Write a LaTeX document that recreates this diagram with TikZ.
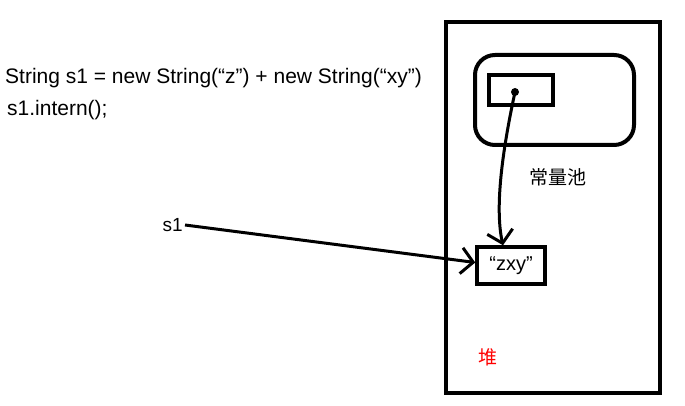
\documentclass[tikz,border=0pt]{standalone}
\usepackage{fontspec}
\setmainfont{Liberation Sans}
\newfontfamily\cjkfont{Noto Sans CJK SC}
\usepackage{tikz}
\usetikzlibrary{positioning,arrows.meta}
\tikzset{
  heapbox/.style={rectangle, draw, line width=4pt, minimum width=214pt, minimum height=371pt, inner sep=0pt},
  poolbox/.style={rectangle, draw, line width=4pt, rounded corners=20pt, minimum width=159pt, minimum height=90pt, inner sep=0pt},
  slotbox/.style={rectangle, draw, line width=3.5pt, minimum width=64pt, minimum height=30pt, inner sep=0pt},
  strbox/.style={rectangle, draw, line width=3.5pt, minimum width=68pt, minimum height=37pt, inner sep=0pt, font=\fontsize{20}{24}\selectfont},
  code/.style={font=\fontsize{21}{25}\selectfont, inner sep=0pt, anchor=west},
  ptr/.style={-{Straight Barb[length=12pt,width=26pt,line width=3pt]}, line width=3pt},
  cjklabel/.style={font=\cjkfont\fontsize{19}{22}\selectfont, inner sep=0pt},
}
\begin{document}
\begin{tikzpicture}[x=1pt, y=1pt]
\useasboundingbox (0,0) rectangle (685,405);
%Nodes
\node[code] (line1) at (5,327) {String s1 = new String(“z”) + new String(“xy”)};
\node[code] (line2) at (7,295) {s1.intern();};
\node[heapbox] (heap) at (553,197.5) {};
\node[poolbox] (pool) at (554.5,305) {};
\node[slotbox] (slot) at (521,315) {};
\node[circle, fill, minimum size=8pt, inner sep=0pt] (dot) at (515,313) {};
\node[cjklabel] (poollabel) at (558,228) {常量池};
\node[strbox] (zxy) at (511,139.5) {“zxy”};
\node[cjklabel, text=red] (heaplabel) at (488,48) {堆};
\node[code, anchor=east, inner sep=2pt, font=\fontsize{19}{22}\selectfont] (s1) at (185,180) {s1};

%Lines
\draw[ptr] (s1.east) -- ([yshift=3pt]zxy.west);
\draw[ptr] (dot.center) .. controls (504,262) and (494,200) .. ([xshift=-8pt]zxy.north);
\end{tikzpicture}
\end{document}
